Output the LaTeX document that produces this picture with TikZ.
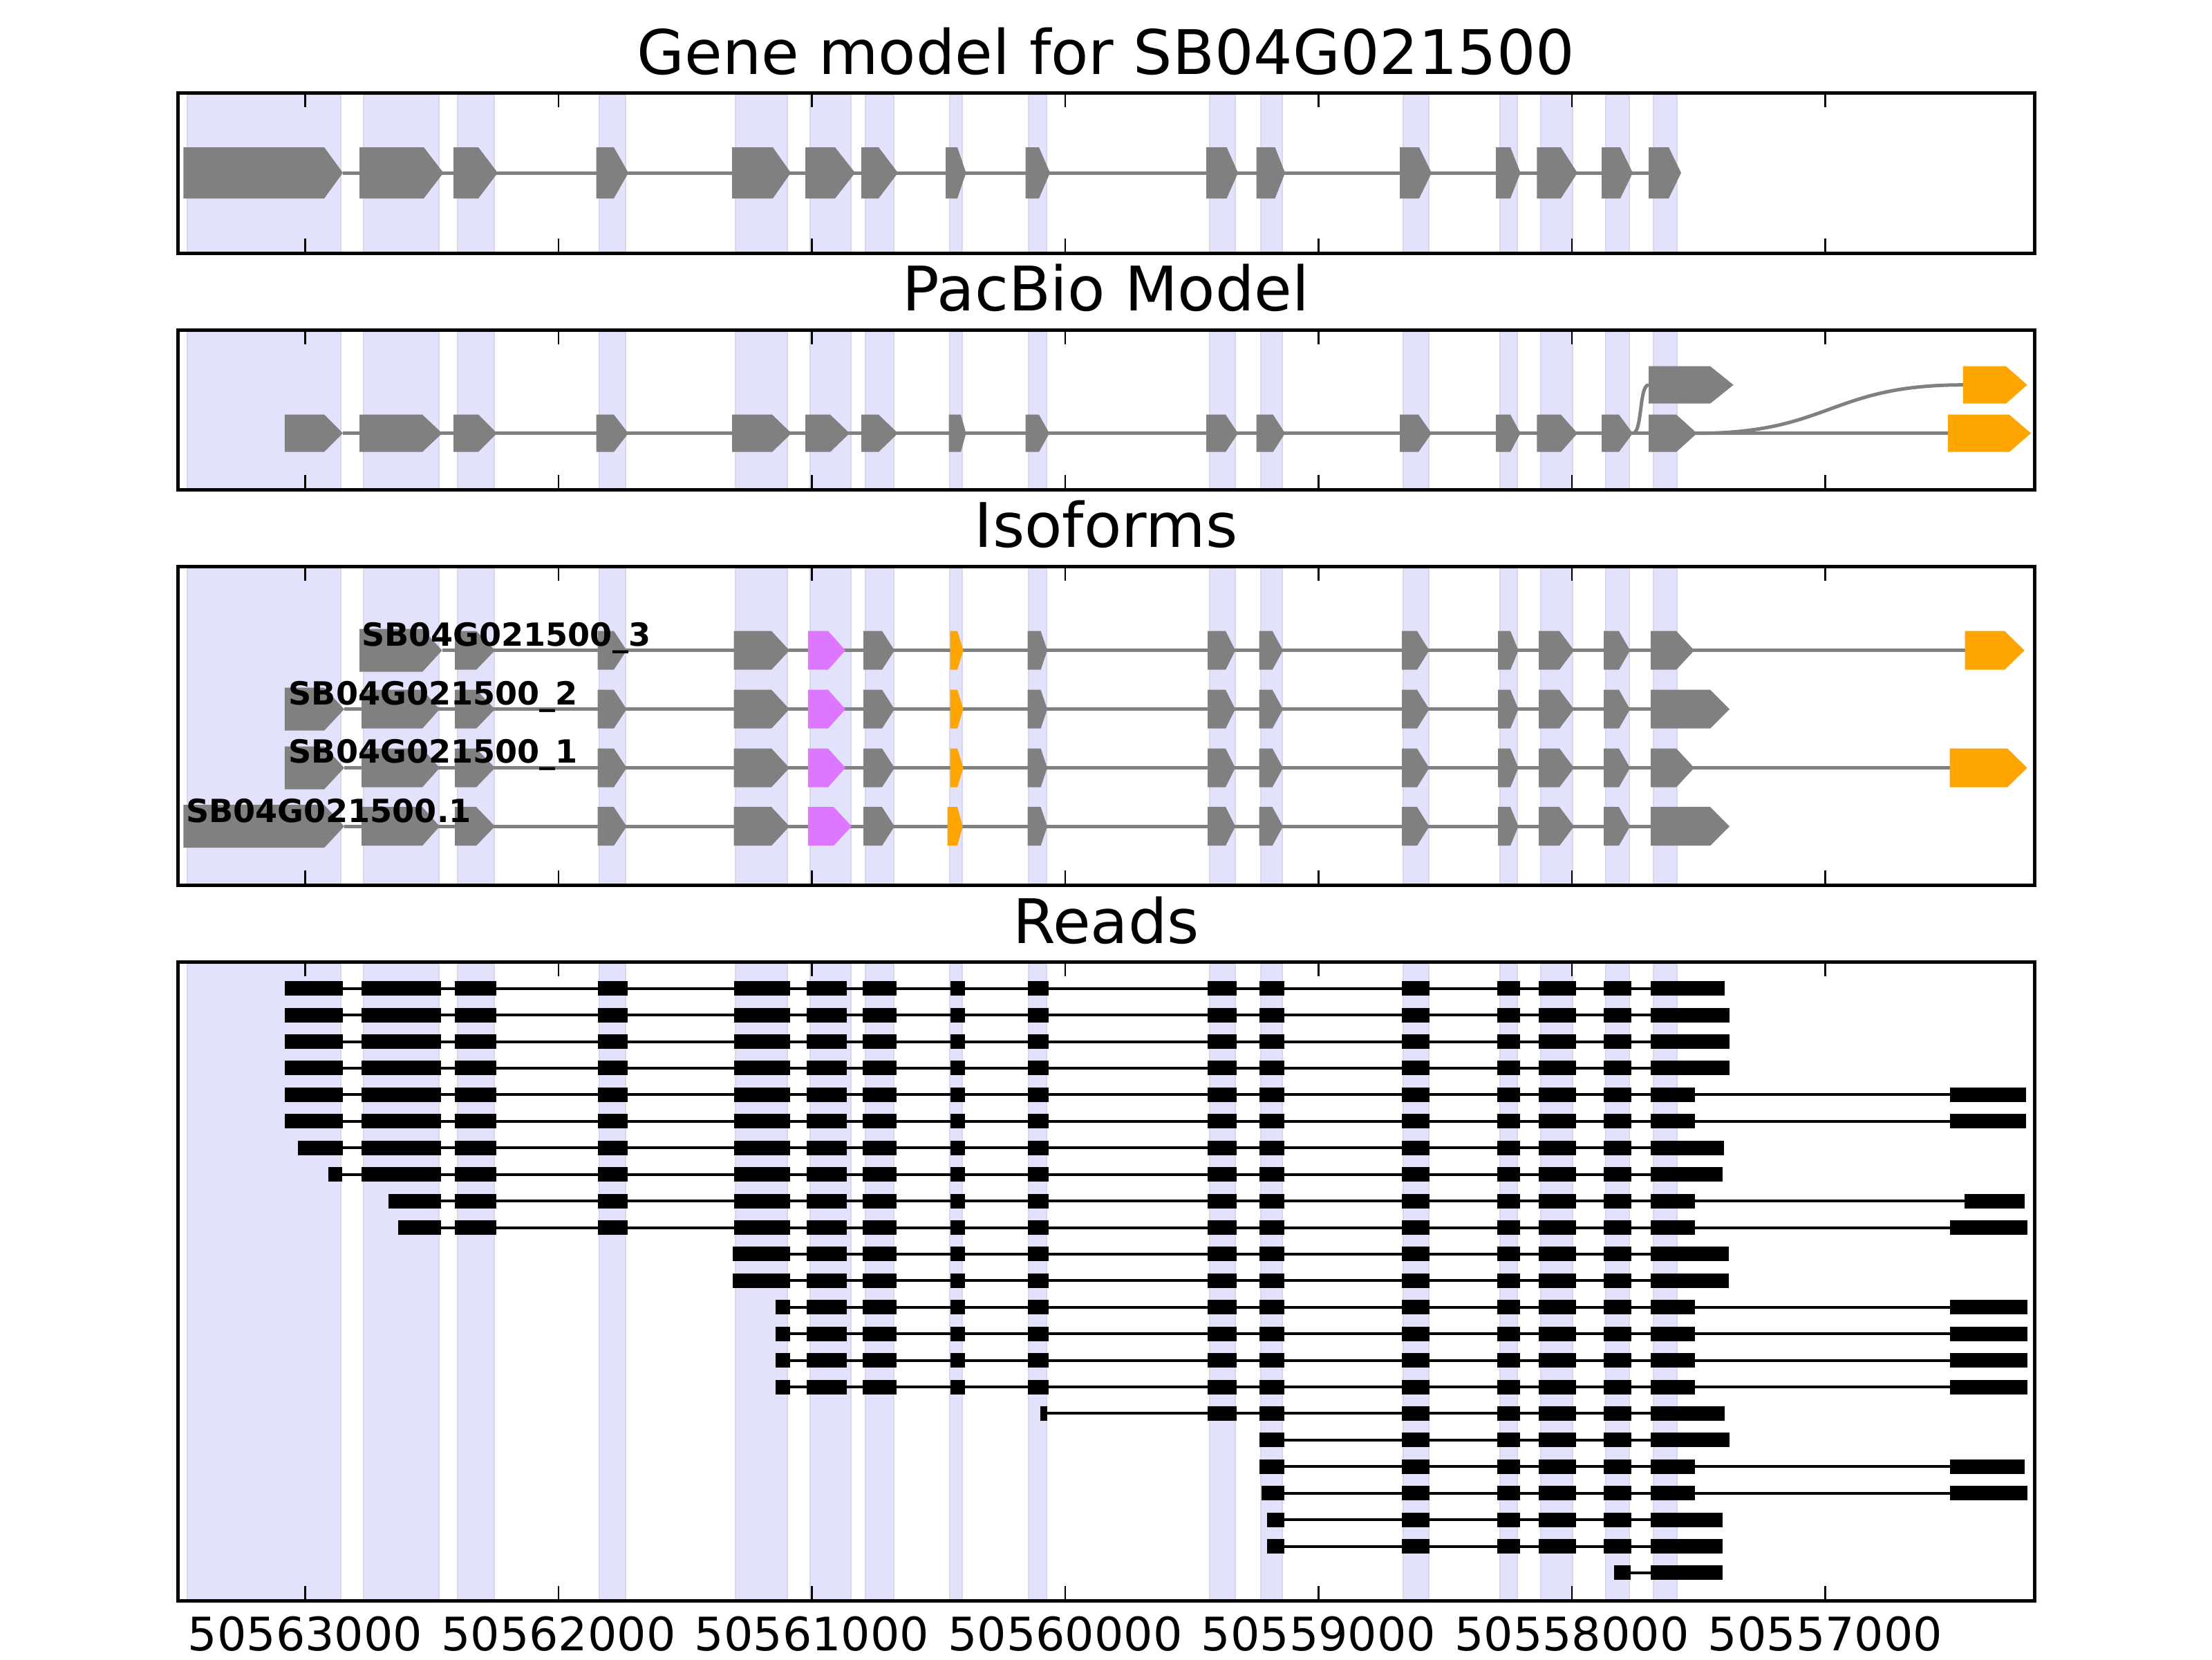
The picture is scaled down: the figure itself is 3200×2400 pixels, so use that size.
\documentclass[tikz,border=0pt]{standalone}
\usepackage{fontspec}
\setmainfont{DejaVu Sans}
\definecolor{exgray}{RGB}{128,128,128}
\definecolor{exorange}{RGB}{255,165,0}
\definecolor{exmag}{RGB}{221,119,255}
\definecolor{bandfill}{RGB}{226,226,253}
\definecolor{bandedge}{RGB}{214,214,236}
\tikzset{
  frame/.style={draw=black,line width=0.9pt},
  tickmark/.style={draw=black,line width=0.45pt},
  band/.style={fill=bandfill,draw=bandedge,line width=0.35pt},
  gline/.style={draw=exgray,line width=0.9pt},
  rline/.style={draw=black,line width=0.72pt},
  ttl/.style={anchor=base,inner sep=0pt,font=\fontsize{16}{19}\selectfont},
  ticklab/.style={anchor=base,inner sep=0pt,font=\fontsize{12}{14}\selectfont},
  isolab/.style={anchor=base west,inner sep=0pt,font=\fontsize{8.3}{10}\selectfont\bfseries}
}
% exons: color, y, half height, list of start/flatend/tip
\newcommand\exrow[4]{\foreach \a/\b/\c in {#4} {\fill[#1] (\a,#2-#3) -- (\b,#2-#3) -- (\c,#2) -- (\b,#2+#3) -- (\a,#2+#3) -- cycle;}}
% bands between top and bottom
\newcommand\bands[2]{\foreach \a/\b in {271/493,526/635,661.6/715,867/904.6,1064/1139,1171.6/1231,1252/1293,1373.5/1392,1488/1514,1750/1787,1824/1855,2030/2066.5,2170/2195,2229/2275,2323/2356.5,2392/2426} {\filldraw[band] (\a,#1+3) rectangle (\b,#2);}}
\newcommand\frameticks[2]{\draw[frame] (257,#1) rectangle (2943,#2);
  \foreach \t in {0,...,6} {\pgfmathsetmacro\tx{441.5+366.5*\t}\draw[tickmark] (\tx,#1) -- (\tx,#1+21); \draw[tickmark] (\tx,#2) -- (\tx,#2-21);}}
% reads: row index, start, end, prefix blocks, suffix blocks
\newcommand\rrow[5]{\pgfmathsetmacro\yy{1429.7+38.42*#1}\draw[rline] (#2,\yy) -- (#3,\yy);
  \foreach \a/\b in {#4} {\fill[black] (\a,\yy-10.5) rectangle (\b,\yy+10.5);}
  \foreach \a/\b in {1167/1225,1248/1297,1374.5/1395.6,1486.5/1517,1747/1789,1821.5/1858,2028/2068.4,2166/2198.6,2226/2280,2320/2360} {\ifdim\a pt<#2pt\relax\else\fill[black] (\a,\yy-10.5) rectangle (\b,\yy+10.5);\fi}
  \foreach \a/\b in {#5} {\fill[black] (\a,\yy-10.5) rectangle (\b,\yy+10.5);}}
\begin{document}
\begin{tikzpicture}[x=0.18pt,y=-0.18pt]
\useasboundingbox (0,0) rectangle (3200,2400);
\fill[white] (0,0) rectangle (3200,2400);

% ---------- titles
\node[ttl] (t1) at (1600,107) {Gene model for SB04G021500};
\node[ttl] (t2) at (1600,449) {PacBio Model};
\node[ttl] (t3) at (1600,791) {Isoforms};
\node[ttl] (t4) at (1600,1364) {Reads};

% ---------- panel 1: gene model
\bands{134}{366}
\draw[gline] (496,250) -- (2385,250);
\exrow{exgray}{250}{37}{265.4/469/496,520/613/641.5,656/692/720,862.5/888/909,1059/1118/1144,1165/1208/1237,1246/1271/1299,1368/1385/1397.5,1483.6/1503/1519,1745/1774.6/1791,1817.7/1844.5/1859,2025/2053/2071,2164/2185/2199.5,2223.4/2258/2282,2317/2344/2362,2385/2414/2432}
\frameticks{134}{366}

% ---------- panel 2: PacBio model
\bands{477}{708}
\draw[gline] (496,626.7) -- (2817.7,626.7);
\draw[gline] (2362,626.7) .. controls (2376,626.7) and (2371,556.7) .. (2385,556.7);
\draw[gline] (2455,626.7) .. controls (2647,626.7) and (2647,556.7) .. (2839.7,556.7);
\exrow{exgray}{626.7}{27}{411.8/469/496,520/611/639.6,656/692/719,862.5/888/909,1059/1117/1145,1165/1201/1229,1246/1271/1299,1372.6/1390/1397.5,1483.6/1503/1518,1745/1773/1791,1817.7/1841.6/1859,2025/2052/2071,2164/2185/2199.5,2223.4/2258/2282,2317/2342/2362,2385/2425/2455}
\exrow{exorange}{626.7}{27}{2817.7/2906.7/2938}
\exrow{exgray}{556.7}{27}{2385/2474/2507.7}
\exrow{exorange}{556.7}{27}{2839.7/2902/2932.5}
\frameticks{477}{708}

% ---------- panel 3: isoforms
\bands{819}{1280}
% row 1 : _3
\draw[gline] (639.6,940.7) -- (2842.6,940.7);
\exrow{exgray}{940.7}{31}{520/611/639.6}
\exrow{exgray}{940.7}{28}{658/689/716,864.5/888/906.5,1061.6/1116/1142,1249/1276/1294,1486.5/1505.6/1515,1747/1773/1787,1821.5/1840.7/1856,2028/2050/2067.5,2167/2185/2196.6,2226/2256/2277,2320/2342/2358,2388/2425/2451}
\exrow{exmag}{940.7}{28}{1168.8/1198/1223}
\exrow{exorange}{940.7}{28}{1374.5/1385/1393.6,2842.6/2900/2928.7}
% row 2 : _2
\draw[gline] (498,1025.7) -- (2388,1025.7);
\exrow{exgray}{1025.7}{31}{411.8/469/498}
\exrow{exgray}{1025.7}{28}{523/611/636,658/689/716,864.5/888/906.5,1061.6/1116/1142,1249/1276/1294,1486.5/1505.6/1515,1747/1773/1787,1821.5/1840.7/1856,2028/2050/2067.5,2167/2185/2196.6,2226/2256/2277,2320/2342/2358,2388/2474/2502}
\exrow{exmag}{1025.7}{28}{1168.8/1198/1223}
\exrow{exorange}{1025.7}{28}{1374.5/1385/1393.6}
% row 3 : _1
\draw[gline] (498,1110.6) -- (2820.6,1110.6);
\exrow{exgray}{1110.6}{31}{411.8/469/498}
\exrow{exgray}{1110.6}{28}{523/611/636,658/689/716,864.5/888/906.5,1061.6/1116/1142,1249/1276/1294,1486.5/1505.6/1515,1747/1773/1787,1821.5/1840.7/1856,2028/2050/2067.5,2167/2185/2196.6,2226/2256/2277,2320/2342/2358,2388/2425/2451}
\exrow{exmag}{1110.6}{28}{1168.8/1198/1223}
\exrow{exorange}{1110.6}{28}{1374.5/1385/1393.6,2820.6/2904/2932.5}
% row 4 : .1
\draw[gline] (498,1195.2) -- (2388,1195.2);
\exrow{exgray}{1195.2}{31}{265.4/469/498}
\exrow{exgray}{1195.2}{28}{523/611/636,658/689/716,864.5/888/906.5,1061.6/1116/1142,1249/1276/1294,1486.5/1505.6/1515,1747/1773/1787,1821.5/1840.7/1856,2028/2050/2067.5,2167/2185/2196.6,2226/2256/2277,2320/2342/2358,2388/2474/2502}
\exrow{exmag}{1195.2}{28}{1168.8/1206/1232}
\exrow{exorange}{1195.2}{28}{1370.7/1385/1392.7}
% labels
\node[isolab] (l3) at (522,934) {SB04G021500\_3};
\node[isolab] (l2) at (416.6,1019) {SB04G021500\_2};
\node[isolab] (l1) at (416.6,1103.7) {SB04G021500\_1};
\node[isolab] (l0) at (268,1189) {SB04G021500.1};
\frameticks{819}{1280}

% ---------- panel 4: reads
\bands{1391}{2315}
\rrow{0}{411.8}{2495}{411.8/496,523/637.6,658/718,864.5/907.5,1061.6/1143}{2388/2495}
\rrow{1}{411.8}{2502}{411.8/496,523/637.6,658/718,864.5/907.5,1061.6/1143}{2388/2502}
\rrow{2}{411.8}{2502}{411.8/496,523/637.6,658/718,864.5/907.5,1061.6/1143}{2388/2502}
\rrow{3}{411.8}{2502}{411.8/496,523/637.6,658/718,864.5/907.5,1061.6/1143}{2388/2502}
\rrow{4}{411.8}{2930.6}{411.8/496,523/637.6,658/718,864.5/907.5,1061.6/1143}{2388/2452,2820.6/2930.6}
\rrow{5}{411.8}{2930.6}{411.8/496,523/637.6,658/718,864.5/907.5,1061.6/1143}{2388/2452,2820.6/2930.6}
\rrow{6}{431}{2494}{431/496,523/637.6,658/718,864.5/907.5,1061.6/1143}{2388/2494}
\rrow{7}{475}{2492}{475/495,523/637.6,658/718,864.5/907.5,1061.6/1143}{2388/2492}
\rrow{8}{562}{2928.7}{562/637.6,658/718,864.5/907.5,1061.6/1143}{2388/2452,2841.6/2928.7}
\rrow{9}{576}{2932.5}{576/637.6,658/718,864.5/907.5,1061.6/1143}{2388/2452,2820.6/2932.5}
\rrow{10}{1059.7}{2501}{1059.7/1143}{2388/2501}
\rrow{11}{1059.7}{2501}{1059.7/1143}{2388/2501}
\rrow{12}{1122}{2932.5}{1122/1143}{2388/2452,2820.6/2932.5}
\rrow{13}{1122}{2932.5}{1122/1143}{2388/2452,2820.6/2932.5}
\rrow{14}{1122}{2932.5}{1122/1143}{2388/2452,2820.6/2932.5}
\rrow{15}{1122}{2932.5}{1122/1143}{2388/2452,2820.6/2932.5}
\rrow{16}{1504.7}{2495}{1504.7/1515}{2388/2495}
\rrow{17}{1821.5}{2502}{1821.5/1858}{2388/2502}
\rrow{18}{1821.5}{2928.7}{1821.5/1858}{2388/2452,2820.6/2928.7}
\rrow{19}{1825}{2932.5}{1825/1858}{2388/2452,2820.6/2932.5}
\rrow{20}{1833}{2492}{1833/1858}{2388/2492}
\rrow{21}{1833}{2492}{1833/1858}{2388/2492}
\rrow{22}{2335.4}{2492}{2335.4/2359}{2388/2492}
\frameticks{1391}{2315}

% ---------- x tick labels
\node[ticklab] (x0) at (441.5,2387) {50563000};
\node[ticklab] (x1) at (808,2387) {50562000};
\node[ticklab] (x2) at (1174.5,2387) {50561000};
\node[ticklab] (x3) at (1541,2387) {50560000};
\node[ticklab] (x4) at (1907.5,2387) {50559000};
\node[ticklab] (x5) at (2274,2387) {50558000};
\node[ticklab] (x6) at (2640.5,2387) {50557000};
\end{tikzpicture}
\end{document}
